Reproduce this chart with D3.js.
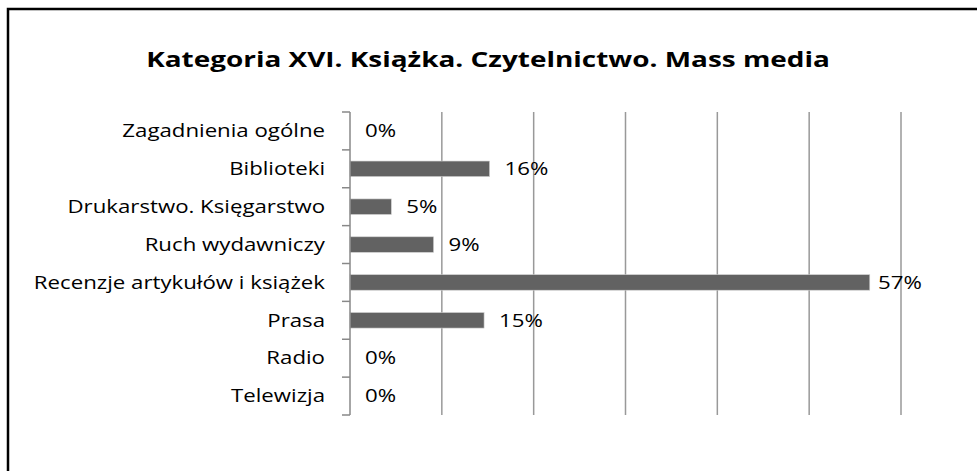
<!DOCTYPE html>
<html>
<head>
<meta charset="utf-8">
<script src="https://cdn.jsdelivr.net/npm/d3@7"></script>
<style>
  body { margin: 0; background: #fff; }
  svg { display: block; font-family: "Open Sans", sans-serif; }
</style>
</head>
<body>
<div id="chart"></div>
<script>
// categories, top to bottom
var categories = [
  "Zagadnienia ogólne",
  "Biblioteki",
  "Drukarstwo. Księgarstwo",
  "Ruch wydawniczy",
  "Recenzje artykułów i książek",
  "Prasa",
  "Radio",
  "Telewizja"
];
// bar lengths (percent)
var values = [0, 15.2, 4.5, 9.1, 56.6, 14.6, 0, 0];
// data labels as printed
var valueLabels = ["0%", "16%", "5%", "9%", "57%", "15%", "0%", "0%"];
var gridTicks = [10, 20, 30, 40, 50, 60];
var title = "Kategoria XVI. Książka. Czytelnictwo. Mass media";

var svgWidth = 977, svgHeight = 471;
// the original picture is stretched sideways, so text is widened too
var sx = 1.27;

var svg = d3.select("#chart")
  .append("svg")
  .attr("width", svgWidth)
  .attr("height", svgHeight);

// chart frame (only top and left visible in the crop)
svg.append("rect")
  .attr("x", 8)
  .attr("y", 9)
  .attr("width", 1200)
  .attr("height", 800)
  .attr("fill", "none")
  .attr("stroke", "#000")
  .attr("stroke-width", 2.5);

svg.append("g")
  .attr("transform", `translate(488,67) scale(${sx},1)`)
  .append("text")
  .attr("text-anchor", "middle")
  .attr("font-size", "22px")
  .attr("font-weight", "bold")
  .attr("fill", "#000")
  .text(title);

var x = d3.scaleLinear()
  .domain([0, 60])
  .range([350, 901]);

// rows (for ticks and labels)
var yRow = d3.scaleBand()
  .domain(categories)
  .range([112, 415]);

// bars inside rows
var yBar = d3.scaleBand()
  .domain(categories)
  .range([112, 415])
  .paddingInner(0.59)
  .paddingOuter(0.295);

// vertical gridlines
svg.append("g")
  .selectAll("line")
  .data(gridTicks)
  .enter()
  .append("line")
  .attr("x1", d => x(d))
  .attr("x2", d => x(d))
  .attr("y1", 112)
  .attr("y2", 415)
  .attr("stroke", "#999")
  .attr("stroke-width", 1.5);

// bars
svg.append("g")
  .selectAll("rect")
  .data(values)
  .enter()
  .append("rect")
  .attr("x", x(0))
  .attr("y", (d, i) => yBar(categories[i]))
  .attr("width", d => x(d) - x(0))
  .attr("height", yBar.bandwidth())
  .attr("fill", "#626262")
  .attr("stroke", d => d > 0 ? "#d0d0d0" : "none")
  .attr("stroke-width", 0.6);

// category axis
var leftAxis = d3.axisLeft(yRow).tickSize(0).tickPadding(25);
var axisG = svg.append("g")
  .attr("transform", `translate(${x(0)},0)`)
  .call(leftAxis);
axisG.select(".domain").remove();
axisG.selectAll("text")
  .attr("x", -25 / sx)
  .attr("transform", `scale(${sx},1)`)
  .attr("dy", "0.36em")
  .attr("font-size", "17.5px")
  .attr("font-family", "'Open Sans', sans-serif")
  .attr("fill", "#000");

svg.append("line")
  .attr("x1", x(0))
  .attr("x2", x(0))
  .attr("y1", 112)
  .attr("y2", 415)
  .attr("stroke", "#888")
  .attr("stroke-width", 1.5);

// tick marks between categories
var tickYs = categories.map(c => yRow(c)).concat([yRow.range()[1]]);
svg.append("g")
  .selectAll("line")
  .data(tickYs)
  .enter()
  .append("line")
  .attr("x1", x(0) - 8)
  .attr("x2", x(0))
  .attr("y1", d => d)
  .attr("y2", d => d)
  .attr("stroke", "#888")
  .attr("stroke-width", 1.5);

// data labels
svg.append("g")
  .selectAll("g")
  .data(values)
  .enter()
  .append("g")
  .attr("transform", (d, i) =>
    `translate(${Math.min(x(d) + 15, x(60) - 23)},${yRow(categories[i]) + yRow.bandwidth() / 2}) scale(${sx},1)`)
  .append("text")
  .attr("dy", "0.36em")
  .attr("font-size", "17.5px")
  .attr("fill", "#000")
  .text((d, i) => valueLabels[i]);
</script>
</body>
</html>
